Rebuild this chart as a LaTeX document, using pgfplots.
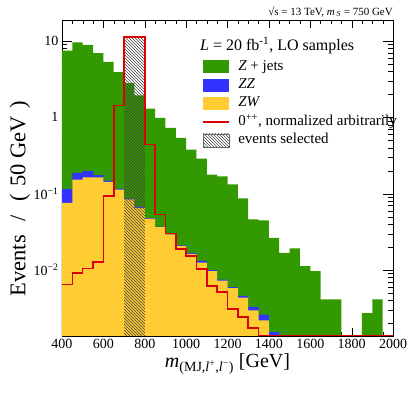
\documentclass[border=0pt]{standalone}
\usepackage{fontspec}
\setmainfont{Liberation Serif}
\usepackage{pgfplots}
\usepackage{pgfplotstable}
\pgfplotsset{compat=1.18}
\usetikzlibrary{patterns}
\definecolor{zjets}{RGB}{51,153,0}
\definecolor{zzcol}{RGB}{51,51,255}
\definecolor{zwcol}{RGB}{255,204,51}
\definecolor{sigred}{RGB}{221,0,0}

% cumulative stack tops (Z+jets + ZZ + ZW)
\pgfplotstableread{
x y
400 1e-6
400 7.45
450 9.6
500 8.9
550 6.9
600 5.3
650 3.9
700 2.8
750 1.94
800 1.30
850 0.98
900 0.725
950 0.536
1000 0.378
1050 0.288
1100 0.178
1150 0.169
1200 0.132
1250 0.0866
1300 0.046
1350 0.0448
1400 0.0264
1450 0.0168
1500 0.0192
1550 0.0113
1600 0.0097
1650 0.00414
1700 0.00414
1750 1e-6
1800 1e-6
1850 0.00272
1900 0.00414
1950 1e-6
2000 1e-6
}\totaltab
% ZZ + ZW
\pgfplotstableread{
x y
400 1e-6
400 0.115
450 0.187
500 0.197
550 0.175
600 0.148
650 0.116
700 0.086
750 0.067
800 0.048
850 0.037
900 0.030
950 0.021
1000 0.0168
1050 0.0132
1100 0.0100
1150 0.0075
1200 0.0060
1250 0.0046
1300 0.0033
1350 0.0026
1400 0.00155
1450 1e-6
2000 1e-6
}\zztab
% ZW
\pgfplotstableread{
x y
400 1e-6
400 0.0758
450 0.153
500 0.164
550 0.164
600 0.143
650 0.113
700 0.084
750 0.065
800 0.047
850 0.0365
900 0.0294
950 0.0206
1000 0.0163
1050 0.0125
1100 0.0097
1150 0.0073
1200 0.0058
1250 0.00435
1300 0.00297
1350 0.0022
1400 1e-6
2000 1e-6
}\zwtab
% signal 0++
\pgfplotstableread{
x y
400 0.0065
450 0.0092
500 0.0105
550 0.0128
600 0.093
650 1.43
700 11.2
750 11.2
800 0.44
850 0.0535
900 0.030
950 0.019
1000 0.0152
1050 0.0103
1100 0.0062
1150 0.0052
1200 0.0031
1250 0.00244
1300 0.00173
1350 0.00137
2000 0.00137
}\sigtab

\begin{document}
\begin{tikzpicture}
\begin{axis}[
  scale only axis, width=331pt, height=316pt,
  clip mode=individual,
  ymode=log, xmin=400, xmax=2000, ymin=0.00137, ymax=18.8,
  xtick={400,600,...,2000},
  xticklabels={400,600,800,1000,1200,1400,1600,1800,2000},
  minor x tick num=3,
  ytick={0.01,0.1,1,10},
  yticklabels={10\textsuperscript{−2},10\textsuperscript{−1},1,10},
  minor ytick={0.002,0.003,0.004,0.005,0.006,0.007,0.008,0.009,0.02,0.03,0.04,0.05,0.06,0.07,0.08,0.09,0.2,0.3,0.4,0.5,0.6,0.7,0.8,0.9,2,3,4,5,6,7,8,9},
  tick align=inside,
  xtick style={/pgfplots/major tick length=8pt,/pgfplots/minor tick length=4pt, black},
  ytick style={/pgfplots/major tick length=10pt,/pgfplots/minor tick length=5pt, black},
  tick label style={font=\fontsize{14}{14}\selectfont},
  axis line style={black, line width=0.8pt},
  xlabel={\textit{m}\textsubscript{(MJ,\textit{l}\textsuperscript{+},\textit{l}\textsuperscript{−})} [GeV]},
  xlabel style={font=\fontsize{20}{20}\selectfont, at={(axis description cs:0.5,-0.101)}, anchor=base},
  ylabel={Events\hspace{0.6em}/\hspace{0.6em}(\hspace{0.35em}50 GeV\hspace{0.35em})},
  ylabel style={font=\fontsize{22.5}{22.5}\selectfont, at={(axis description cs:-0.127,0.435)}, anchor=center},
  legend style={at={(rel axis cs:0.425,0.873)}, anchor=north west, draw=none, fill=none,
    inner sep=0pt, font=\fontsize{15}{15}\selectfont, row sep=5.3pt,
    nodes={inner sep=0pt, text height=10pt, text depth=3pt},
    /tikz/every odd column/.append style={column sep=9pt}},
  legend cell align=left,
]
\addplot[const plot, fill=zjets, draw=none, forget plot] table {\totaltab} -- cycle;
\addplot[const plot, fill=zzcol, draw=none, forget plot] table {\zztab} -- cycle;
\addplot[const plot, fill=zwcol, draw=none, forget plot] table {\zwtab} -- cycle;
\addplot[draw=none, pattern=north west lines, pattern color=black!75, forget plot]
  coordinates {(700,1e-6) (700,11.2) (800,11.2) (800,1e-6)} -- cycle;
\addplot[const plot, draw=sigred, line width=1.6pt, forget plot] table {\sigtab};

\addlegendimage{draw=none, legend image code/.code={\fill[zjets] (0pt,-6.5pt) rectangle (26pt,6.5pt);}}
\addlegendentry{\textit{Z} + jets}
\addlegendimage{draw=none, legend image code/.code={\fill[zzcol] (0pt,-6.5pt) rectangle (26pt,6.5pt);}}
\addlegendentry{\textit{ZZ}}
\addlegendimage{draw=none, legend image code/.code={\fill[zwcol] (0pt,-6.5pt) rectangle (26pt,6.5pt);}}
\addlegendentry{\textit{ZW}}
\addlegendimage{draw=none, legend image code/.code={\fill[white, fill opacity=0] (0pt,-6.5pt) rectangle (26pt,6.5pt); \fill[sigred] (0pt,-0.8pt) rectangle (26pt,0.8pt);}}
\addlegendentry{0\textsuperscript{++}, normalized arbitrarily}
\addlegendimage{draw=none, legend image code/.code={\path[pattern=north west lines, pattern color=black!70, draw=black!60] (0pt,-6.5pt) rectangle (26pt,6.5pt);}}
\addlegendentry{events selected}

\node[anchor=base west, font=\fontsize{16}{16}\selectfont, inner sep=0pt] at (rel axis cs:0.417,0.902) {\textit{L} = 20 fb\textsuperscript{-1}, LO samples};
\node[anchor=base east, font=\fontsize{11}{11}\selectfont, inner sep=0pt] at (rel axis cs:1,1.0158) {√s = 13 TeV, \textit{m}\,\textsubscript{\textit{S}} = 750 GeV};
\end{axis}
\pgfresetboundingbox
\path (current axis.south west) ++(-62pt,-59pt) rectangle ++(415pt,395pt);
\end{tikzpicture}
\end{document}
